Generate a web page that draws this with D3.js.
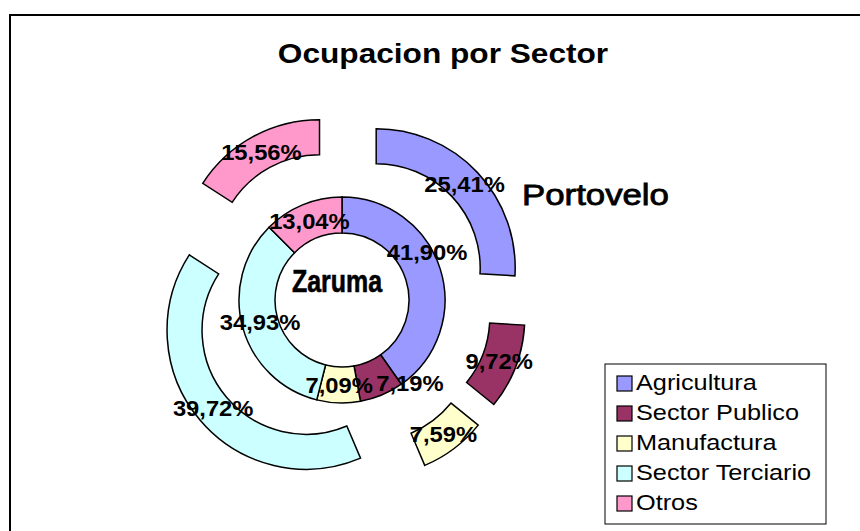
<!DOCTYPE html>
<html>
<head>
<meta charset="utf-8">
<script src="https://cdn.jsdelivr.net/npm/d3@7"></script>
<style>
  body { margin: 0; background: #fff; }
  svg { display: block; font-family: Arial, "Liberation Sans", sans-serif; }
</style>
</head>
<body>
<svg width="860" height="531"></svg>
<script>
const sectors = ['Agricultura', 'Sector Publico', 'Manufactura', 'Sector Terciario', 'Otros'];
const zaruma = [41.90, 7.19, 7.09, 34.93, 13.04];
const portovelo = [25.41, 9.72, 7.59, 39.72, 15.56];
const colors = ['#9999FF', '#993366', '#FFFFCC', '#CCFFFF', '#FF99CC'];

const svg = d3.select('svg');
const fmt = v => v.toFixed(2).replace('.', ',') + '%';

// chart frame (runs off the right and bottom)
svg.append('rect')
    .attr('x', 10).attr('y', 15)
    .attr('width', 880).attr('height', 540)
    .attr('fill', 'none').attr('stroke', '#000').attr('stroke-width', 2);

svg.append('text')
    .attr('transform', 'translate(443,63) scale(1.13,1)')
    .attr('text-anchor', 'middle')
    .attr('font-size', 28).attr('font-weight', 'bold')
    .text('Ocupacion por Sector');

const cx = 342, cy = 300;
const g = svg.append('g').attr('transform', `translate(${cx},${cy})`);

const pie = d3.pie().sort(null).value(d => d);
const innerArc = d3.arc().innerRadius(67).outerRadius(103);
const outerArc = d3.arc().innerRadius(104).outerRadius(139);
const explode = 47;
const mid = d => (d.startAngle + d.endAngle) / 2;

// Excel moved two of the inner labels to avoid overlap
const innerNudge = [[4, -22], [35, 5], [0, 0], [0, 0], [0, 0]];

const zarumaArcs = pie(zaruma);
const portoArcs = pie(portovelo);

g.selectAll('path.inner').data(zarumaArcs)
  .enter().append('path')
    .attr('class', 'inner')
    .attr('d', innerArc)
    .attr('fill', (d, i) => colors[i])
    .attr('stroke', '#000').attr('stroke-width', 1.5);

g.selectAll('path.outer').data(portoArcs)
  .enter().append('path')
    .attr('class', 'outer')
    .attr('transform', d => `translate(${Math.sin(mid(d)) * explode},${-Math.cos(mid(d)) * explode})`)
    .attr('d', outerArc)
    .attr('fill', (d, i) => colors[i])
    .attr('stroke', '#000').attr('stroke-width', 1.5);

const labelStyle = sel => sel
    .attr('text-anchor', 'middle')
    .attr('dy', '0.35em')
    .attr('font-size', 22).attr('font-weight', 'bold')
    .attr('fill', '#000');

g.selectAll('text.inner').data(zarumaArcs)
  .enter().append('text')
    .attr('class', 'inner')
    .attr('transform', (d, i) => {
        const [x, y] = innerArc.centroid(d);
        return `translate(${x + innerNudge[i][0]},${y + innerNudge[i][1]}) scale(1.08,1)`;
    })
    .call(labelStyle)
    .text(d => fmt(d.data));

g.selectAll('text.outer').data(portoArcs)
  .enter().append('text')
    .attr('class', 'outer')
    .attr('transform', d => {
        const [x, y] = outerArc.centroid(d);
        return `translate(${x + Math.sin(mid(d)) * explode},${y - Math.cos(mid(d)) * explode}) scale(1.08,1)`;
    })
    .call(labelStyle)
    .text(d => fmt(d.data));

// series names
svg.append('text')
    .attr('transform', 'translate(337,292) scale(0.78,1)')
    .attr('text-anchor', 'middle')
    .attr('font-size', 32).attr('font-weight', 'bold')
    .attr('stroke', '#000').attr('stroke-width', 0.6)
    .text('Zaruma');

svg.append('text')
    .attr('transform', 'translate(522,205) scale(1.2,1)')
    .attr('font-size', 29)
    .attr('stroke', '#000').attr('stroke-width', 0.8)
    .text('Portovelo');

// legend
const legend = svg.append('g').attr('transform', 'translate(605,364)');
legend.append('rect')
    .attr('width', 221).attr('height', 160)
    .attr('fill', '#fff').attr('stroke', '#000').attr('stroke-width', 1);

const rowY = d3.scalePoint().domain(sectors).range([18, 138]);

const item = legend.selectAll('g.item').data(sectors)
  .enter().append('g')
    .attr('class', 'item')
    .attr('transform', d => `translate(0,${rowY(d)})`);

item.append('rect')
    .attr('x', 12).attr('y', -6)
    .attr('width', 15).attr('height', 15)
    .attr('fill', (d, i) => colors[i])
    .attr('stroke', '#000').attr('stroke-width', 1.2);

item.append('text')
    .attr('transform', 'translate(31,8) scale(1.15,1)')
    .attr('font-size', 22)
    .text(d => d);
</script>
</body>
</html>
